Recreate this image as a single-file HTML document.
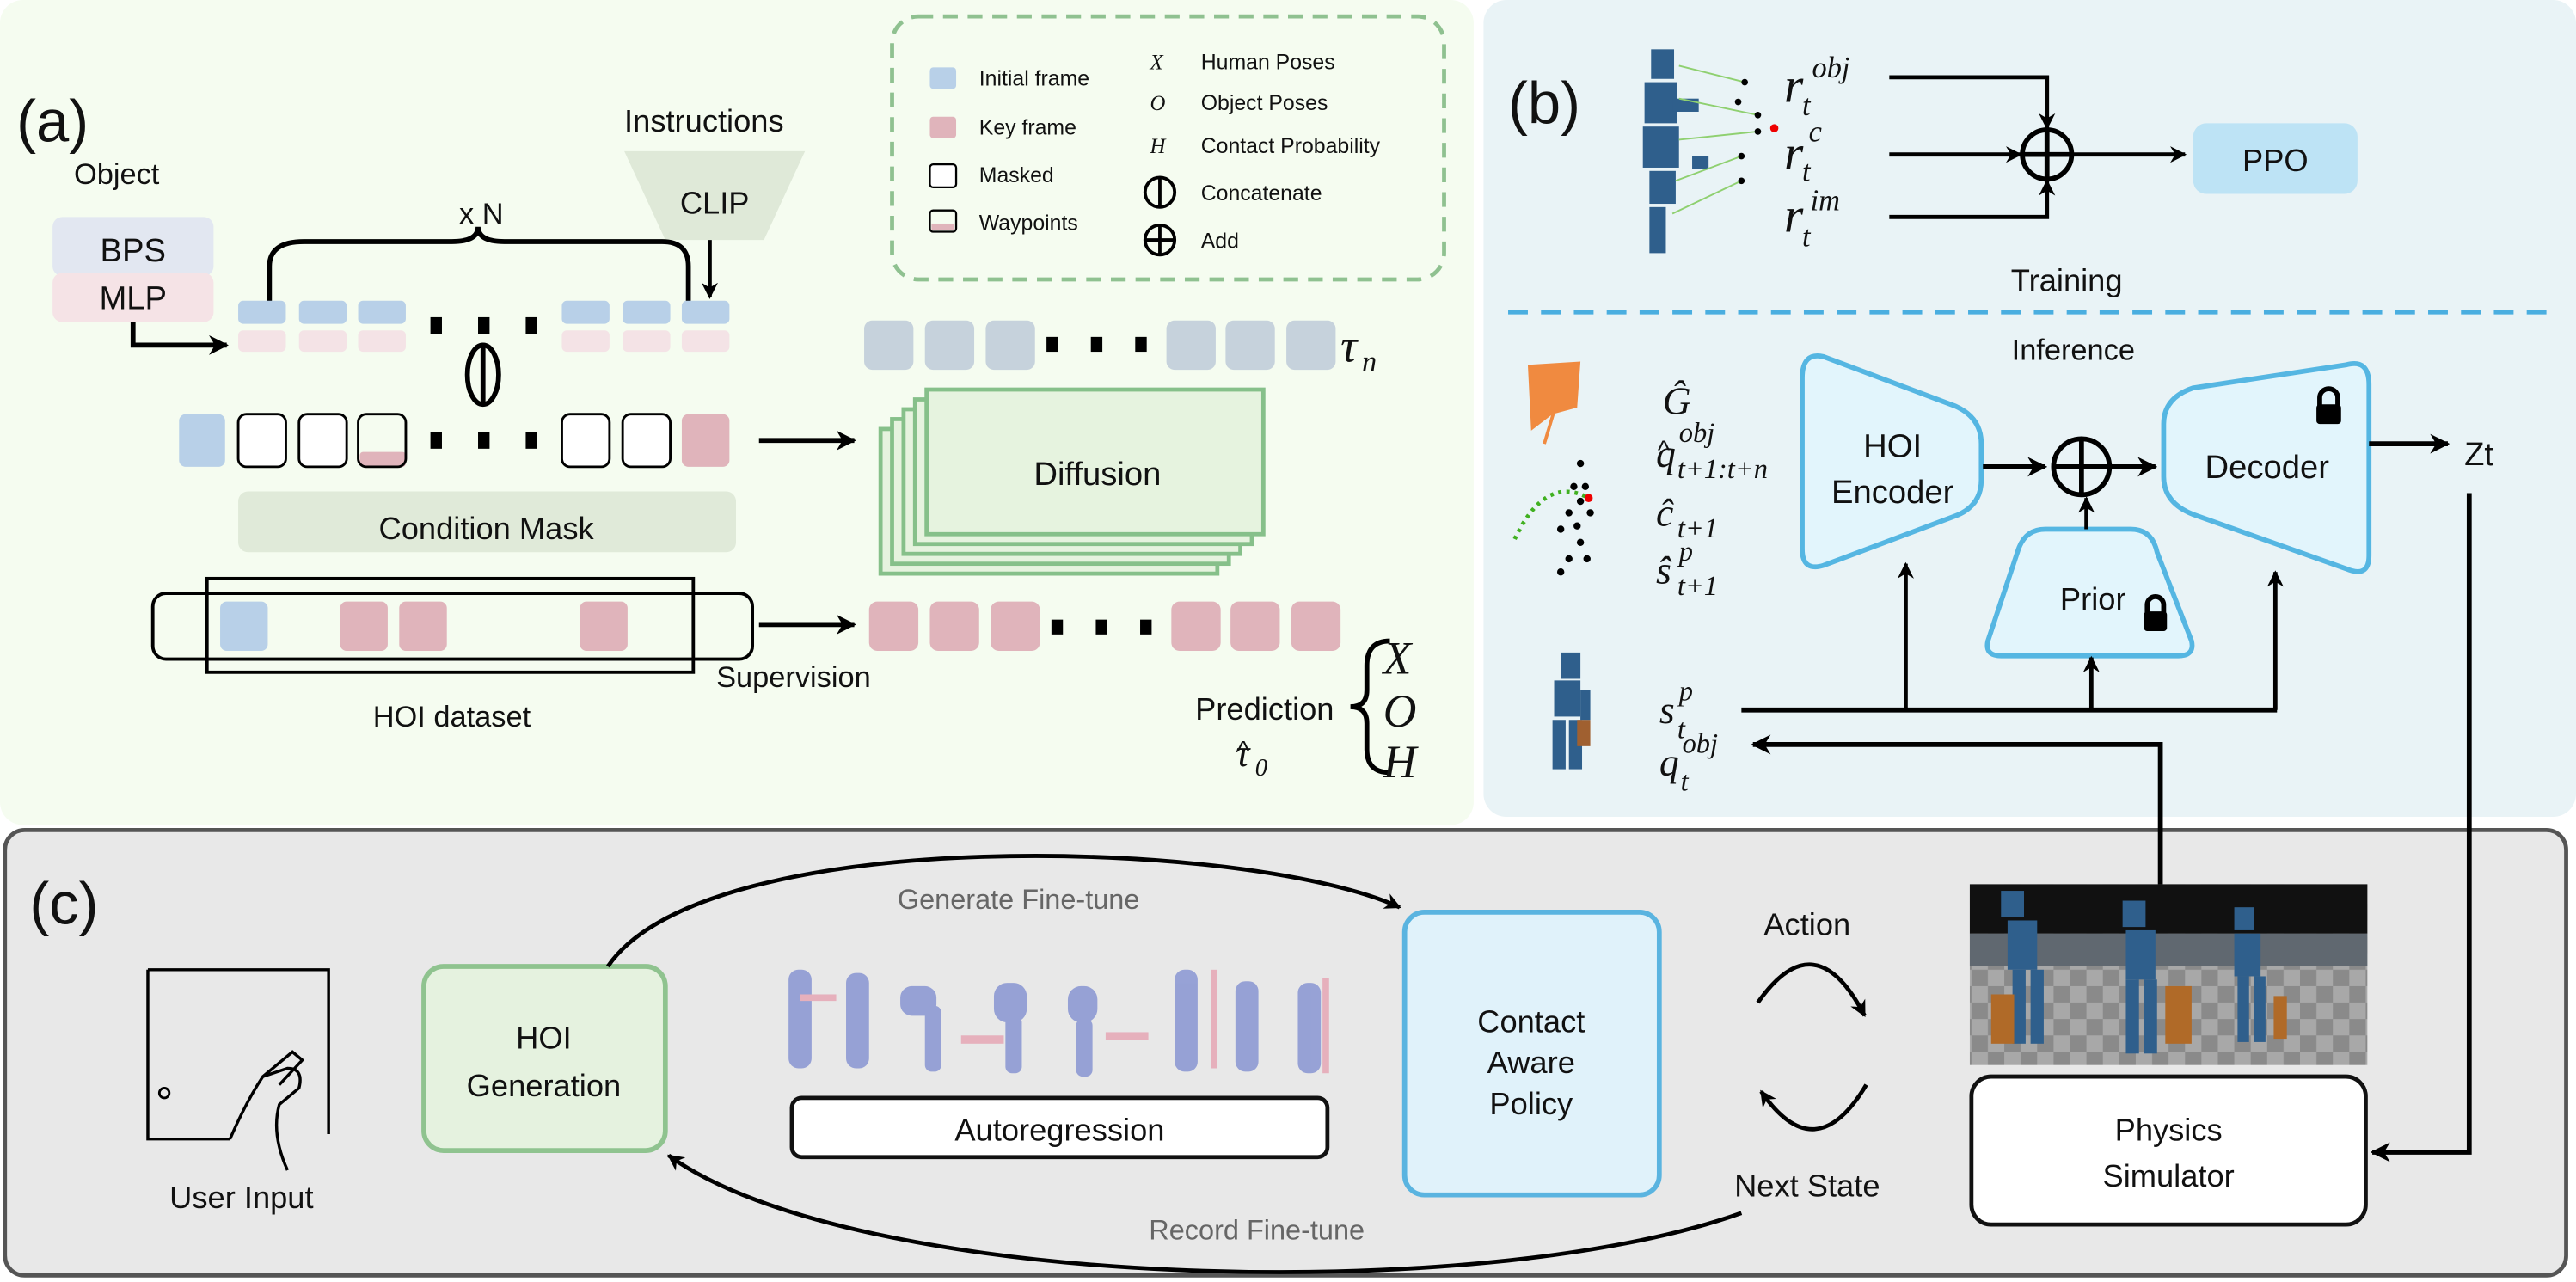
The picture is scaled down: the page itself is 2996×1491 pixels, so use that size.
<!DOCTYPE html>
<html><head><meta charset="utf-8">
<style>
html,body{margin:0;padding:0;background:#fff;}
svg{display:block;}
text{font-family:"Liberation Sans",Arial,sans-serif;fill:#111;}
.m{font-family:"Liberation Serif","DejaVu Serif",serif;font-style:italic;}
</style></head><body>
<svg width="2996" height="1491" viewBox="0 0 1568 780" preserveAspectRatio="none" xmlns="http://www.w3.org/2000/svg">
<defs>
<marker id="ah" viewBox="0 0 10 10" refX="9" refY="5" markerWidth="4" markerHeight="4" orient="auto-start-reverse"><path d="M0,0 L10,5 L0,10 L3,5 z" fill="#000"/></marker>
<pattern id="chk" width="20" height="20" patternUnits="userSpaceOnUse"><rect width="20" height="20" fill="#8a8a8a"/><rect width="10" height="10" fill="#a8a8a8"/><rect x="10" y="10" width="10" height="10" fill="#a8a8a8"/></pattern>
</defs>
<!-- panels -->
<rect x="0" y="0" width="897" height="502" rx="14" fill="#f5fcf0"/>
<rect x="903" y="0" width="665" height="497" rx="14" fill="#e9f3f6"/>
<rect x="3" y="505" width="1559" height="271" rx="12" fill="#e8e8e8" stroke="#555" stroke-width="2.5"/>

<!-- ===== (a) ===== -->
<text x="10" y="86" font-size="36">(a)</text>
<text x="45" y="112" font-size="18">Object</text>
<rect x="32" y="132" width="98" height="36" rx="6" fill="#e2e7f1"/>
<rect x="32" y="166" width="98" height="30" rx="6" fill="#f5e3e6"/>
<text x="81" y="159" font-size="20" text-anchor="middle">BPS</text>
<text x="81" y="188" font-size="20" text-anchor="middle">MLP</text>
<path d="M81,196 V210 H138" fill="none" stroke="#000" stroke-width="3" marker-end="url(#ah)"/>
<text x="380" y="80" font-size="19">Instructions</text>
<path d="M380,92 H490 L465,146 H405 Z" fill="#dfe9d8"/>
<text x="435" y="130" font-size="19" text-anchor="middle">CLIP</text>
<path d="M432,146 V181" stroke="#000" stroke-width="2.5" marker-end="url(#ah)"/>
<text x="293" y="136" font-size="18" text-anchor="middle">x N</text>
<path d="M164,184 V162 Q164,147 185,147 H275 Q291,147 291,138 Q291,147 307,147 H403 Q419,147 419,162 V184" fill="none" stroke="#000" stroke-width="3"/>
<g>
<rect x="145" y="183" width="29" height="14" rx="3" fill="#b8d0e8"/><rect x="182" y="183" width="29" height="14" rx="3" fill="#b8d0e8"/><rect x="218" y="183" width="29" height="14" rx="3" fill="#b8d0e8"/>
<rect x="342" y="183" width="29" height="14" rx="3" fill="#b8d0e8"/><rect x="379" y="183" width="29" height="14" rx="3" fill="#b8d0e8"/><rect x="415" y="183" width="29" height="14" rx="3" fill="#b8d0e8"/>
<rect x="145" y="201" width="29" height="13" rx="3" fill="#f4e3e6"/><rect x="182" y="201" width="29" height="13" rx="3" fill="#f4e3e6"/><rect x="218" y="201" width="29" height="13" rx="3" fill="#f4e3e6"/>
<rect x="342" y="201" width="29" height="13" rx="3" fill="#f4e3e6"/><rect x="379" y="201" width="29" height="13" rx="3" fill="#f4e3e6"/><rect x="415" y="201" width="29" height="13" rx="3" fill="#f4e3e6"/>
<rect x="262" y="193" width="7" height="10" fill="#000"/><rect x="291" y="193" width="7" height="10" fill="#000"/><rect x="320" y="193" width="7" height="10" fill="#000"/>
</g>
<ellipse cx="294" cy="228" rx="9.5" ry="18" fill="none" stroke="#000" stroke-width="3"/>
<line x1="294" y1="210" x2="294" y2="246" stroke="#000" stroke-width="3"/>
<rect x="109" y="252" width="28" height="32" rx="4" fill="#b8d0e8"/>
<rect x="145" y="252" width="29" height="32" rx="5" fill="#fff" stroke="#000" stroke-width="1.5"/>
<rect x="182" y="252" width="29" height="32" rx="5" fill="#fff" stroke="#000" stroke-width="1.5"/>
<rect x="219" y="275" width="28" height="9" rx="2" fill="#e0b4bb"/>
<rect x="218" y="252" width="29" height="32" rx="5" fill="none" stroke="#000" stroke-width="1.5"/>
<rect x="262" y="263" width="7" height="10" fill="#000"/><rect x="291" y="263" width="7" height="10" fill="#000"/><rect x="320" y="263" width="7" height="10" fill="#000"/>
<rect x="342" y="252" width="29" height="32" rx="5" fill="#fff" stroke="#000" stroke-width="1.5"/>
<rect x="379" y="252" width="29" height="32" rx="5" fill="#fff" stroke="#000" stroke-width="1.5"/>
<rect x="415" y="252" width="29" height="32" rx="4" fill="#e0b4bb"/>
<path d="M462,268 H520" stroke="#000" stroke-width="3" marker-end="url(#ah)"/>
<rect x="145" y="299" width="303" height="37" rx="6" fill="#e0ead9"/>
<text x="296" y="328" font-size="19" text-anchor="middle">Condition Mask</text>
<rect x="93" y="361" width="365" height="40" rx="8" fill="none" stroke="#000" stroke-width="2"/>
<rect x="126" y="352" width="296" height="57" fill="none" stroke="#000" stroke-width="2"/>
<rect x="134" y="366" width="29" height="30" rx="4" fill="#b8d0e8"/>
<rect x="207" y="366" width="29" height="30" rx="4" fill="#e0b4bb"/>
<rect x="243" y="366" width="29" height="30" rx="4" fill="#e0b4bb"/>
<rect x="353" y="366" width="29" height="30" rx="4" fill="#e0b4bb"/>
<text x="275" y="442" font-size="18" text-anchor="middle">HOI dataset</text>
<path d="M462,380 H520" stroke="#000" stroke-width="3" marker-end="url(#ah)"/>
<text x="436" y="418" font-size="18">Supervision</text>
<!-- tau_n -->
<g fill="#c6d2dc">
<rect x="526" y="195" width="30" height="30" rx="5"/><rect x="563" y="195" width="30" height="30" rx="5"/><rect x="600" y="195" width="30" height="30" rx="5"/>
<rect x="710" y="195" width="30" height="30" rx="5"/><rect x="746" y="195" width="30" height="30" rx="5"/><rect x="783" y="195" width="30" height="30" rx="5"/>
</g>
<rect x="637" y="205" width="7" height="9" fill="#000"/><rect x="664" y="205" width="7" height="9" fill="#000"/><rect x="691" y="205" width="7" height="9" fill="#000"/>
<text x="816" y="220" font-size="28" class="m">τ</text><text x="829" y="226" font-size="18" class="m">n</text>
<!-- diffusion stack -->
<g fill="#e6f3df" stroke="#86c08a" stroke-width="2.5">
<rect x="536" y="261" width="205" height="88"/>
<rect x="543" y="255" width="205" height="88"/>
<rect x="550" y="249" width="205" height="88"/>
<rect x="557" y="243" width="205" height="88"/>
<rect x="564" y="237" width="205" height="88"/>
</g>
<text x="668" y="295" font-size="20" text-anchor="middle">Diffusion</text>
<g fill="#e0b4bb">
<rect x="529" y="366" width="30" height="30" rx="5"/><rect x="566" y="366" width="30" height="30" rx="5"/><rect x="603" y="366" width="30" height="30" rx="5"/>
<rect x="713" y="366" width="30" height="30" rx="5"/><rect x="749" y="366" width="30" height="30" rx="5"/><rect x="786" y="366" width="30" height="30" rx="5"/>
</g>
<rect x="640" y="377" width="7" height="9" fill="#000"/><rect x="667" y="377" width="7" height="9" fill="#000"/><rect x="694" y="377" width="7" height="9" fill="#000"/>
<text x="812" y="438" font-size="19" text-anchor="end">Prediction</text>
<text x="752" y="466" font-size="24" class="m">τ</text><text x="753" y="462" font-size="16">^</text><text x="764" y="472" font-size="15" class="m">0</text>
<path d="M846,390 Q832,390 832,405 V420 Q832,430 822,430 Q832,430 832,440 V456 Q832,470 846,470" fill="none" stroke="#000" stroke-width="3"/>
<text x="842" y="410" font-size="28" class="m">X</text>
<text x="842" y="442" font-size="28" class="m">O</text>
<text x="842" y="473" font-size="28" class="m">H</text>
<!-- legend -->
<rect x="543" y="10" width="336" height="160" rx="16" fill="none" stroke="#8fc190" stroke-width="2.5" stroke-dasharray="9,6"/>
<rect x="566" y="41" width="16" height="13" rx="2" fill="#b8d0e8"/>
<rect x="566" y="71" width="16" height="13" rx="2" fill="#e0b4bb"/>
<rect x="566" y="100" width="16" height="14" rx="2" fill="#fff" stroke="#000" stroke-width="1.2"/>
<rect x="567" y="136" width="14" height="4" fill="#e0b4bb"/>
<rect x="566" y="128" width="16" height="13" rx="2" fill="none" stroke="#000" stroke-width="1.2"/>
<g font-size="13">
<text x="596" y="52">Initial frame</text><text x="596" y="82">Key frame</text><text x="596" y="111">Masked</text><text x="596" y="140">Waypoints</text>
<text x="731" y="42">Human Poses</text><text x="731" y="67">Object Poses</text><text x="731" y="93">Contact Probability</text><text x="731" y="122">Concatenate</text><text x="731" y="151">Add</text>
</g>
<text x="700" y="42" font-size="13" class="m">X</text><text x="700" y="67" font-size="13" class="m">O</text><text x="700" y="93" font-size="13" class="m">H</text>
<circle cx="706" cy="117" r="9" fill="none" stroke="#000" stroke-width="2"/><line x1="706" y1="108" x2="706" y2="126" stroke="#000" stroke-width="2"/>
<circle cx="706" cy="146" r="9" fill="none" stroke="#000" stroke-width="2"/><line x1="706" y1="137" x2="706" y2="155" stroke="#000" stroke-width="2"/><line x1="697" y1="146" x2="715" y2="146" stroke="#000" stroke-width="2"/>

<!-- ===== (b) ===== -->
<text x="918" y="75" font-size="36">(b)</text>
<g fill="#2f5f8c">
<rect x="1005" y="30" width="14" height="18"/><rect x="1001" y="50" width="20" height="25"/><rect x="1000" y="77" width="22" height="25"/><rect x="1004" y="104" width="16" height="20"/><rect x="1004" y="126" width="10" height="28"/><rect x="1018" y="60" width="16" height="8"/><rect x="1030" y="95" width="10" height="8"/>
</g>
<g stroke="#8fd070" stroke-width="1"><line x1="1022" y1="40" x2="1062" y2="50"/><line x1="1022" y1="60" x2="1070" y2="70"/><line x1="1022" y1="85" x2="1070" y2="80"/><line x1="1020" y1="110" x2="1060" y2="95"/><line x1="1018" y1="130" x2="1060" y2="110"/></g>
<g fill="#000"><circle cx="1062" cy="50" r="2"/><circle cx="1070" cy="70" r="2"/><circle cx="1070" cy="80" r="2"/><circle cx="1060" cy="95" r="2"/><circle cx="1060" cy="110" r="2"/><circle cx="1058" cy="62" r="2"/></g>
<circle cx="1080" cy="78" r="2.5" fill="#e00"/>
<text x="1086" y="62" font-size="30" class="m">r</text><text x="1103" y="47" font-size="18" class="m">obj</text><text x="1097" y="70" font-size="18" class="m">t</text>
<text x="1086" y="103" font-size="30" class="m">r</text><text x="1101" y="86" font-size="18" class="m">c</text><text x="1097" y="110" font-size="18" class="m">t</text>
<text x="1086" y="141" font-size="30" class="m">r</text><text x="1102" y="128" font-size="18" class="m">im</text><text x="1097" y="150" font-size="18" class="m">t</text>
<path d="M1150,47 H1246 V78" fill="none" stroke="#000" stroke-width="2.5" marker-end="url(#ah)"/>
<path d="M1150,94 H1230" stroke="#000" stroke-width="2.5" marker-end="url(#ah)"/>
<path d="M1150,132 H1246 V110" fill="none" stroke="#000" stroke-width="2.5" marker-end="url(#ah)"/>
<circle cx="1246" cy="94" r="15" fill="none" stroke="#000" stroke-width="3"/><line x1="1246" y1="79" x2="1246" y2="109" stroke="#000" stroke-width="3"/><line x1="1231" y1="94" x2="1261" y2="94" stroke="#000" stroke-width="3"/>
<path d="M1262,94 H1330" stroke="#000" stroke-width="2.5" marker-end="url(#ah)"/>
<rect x="1335" y="75" width="100" height="43" rx="8" fill="#bde3f5"/>
<text x="1385" y="104" font-size="19" text-anchor="middle">PPO</text>
<text x="1258" y="177" font-size="19" text-anchor="middle">Training</text>
<line x1="918" y1="190" x2="1555" y2="190" stroke="#4aaee0" stroke-width="2.5" stroke-dasharray="12,8"/>
<text x="1262" y="219" font-size="18" text-anchor="middle">Inference</text>
<path d="M930,222 L962,220 L960,248 L945,252 L932,262 Z" fill="#f08a40"/>
<line x1="946" y1="250" x2="940" y2="270" stroke="#f08a40" stroke-width="2"/>
<path d="M922,328 Q940,290 965,302" fill="none" stroke="#40b020" stroke-width="2.5" stroke-dasharray="2,3"/>
<g fill="#000"><circle cx="962" cy="282" r="2.2"/><circle cx="958" cy="296" r="2.2"/><circle cx="965" cy="296" r="2.2"/><circle cx="962" cy="305" r="2.2"/><circle cx="955" cy="312" r="2.2"/><circle cx="968" cy="312" r="2.2"/><circle cx="950" cy="322" r="2.2"/><circle cx="960" cy="320" r="2.2"/><circle cx="962" cy="330" r="2.2"/><circle cx="955" cy="340" r="2.2"/><circle cx="966" cy="340" r="2.2"/><circle cx="950" cy="348" r="2.2"/></g>
<circle cx="967" cy="303" r="2.5" fill="#e00"/>
<text x="1012" y="252" font-size="24" class="m">Ĝ</text>
<text x="1008" y="284" font-size="24" class="m">q</text><text x="1009" y="279" font-size="16">^</text><text x="1022" y="269" font-size="17" class="m">obj</text><text x="1021" y="291" font-size="17" class="m">t+1:t+n</text>
<text x="1008" y="320" font-size="24" class="m">ĉ</text><text x="1021" y="327" font-size="17" class="m">t+1</text>
<text x="1008" y="355" font-size="24" class="m">ŝ</text><text x="1022" y="341" font-size="17" class="m">p</text><text x="1021" y="362" font-size="17" class="m">t+1</text>
<!-- encoder -->
<path d="M1110,225 L1190,255 Q1206,262 1206,278 V300 Q1206,316 1190,322 L1110,352 Q1097,356 1097,342 V238 Q1097,222 1110,225 Z" transform="translate(0,-8)" fill="#e2f5fc" stroke="#55b6e2" stroke-width="3"/>
<text x="1152" y="278" font-size="20" text-anchor="middle">HOI</text>
<text x="1152" y="306" font-size="20" text-anchor="middle">Encoder</text>
<path d="M1207,284 H1245" stroke="#000" stroke-width="3" marker-end="url(#ah)"/>
<circle cx="1267" cy="284" r="17" fill="none" stroke="#000" stroke-width="3"/><line x1="1267" y1="267" x2="1267" y2="301" stroke="#000" stroke-width="3"/><line x1="1250" y1="284" x2="1284" y2="284" stroke="#000" stroke-width="3"/>
<path d="M1284,284 H1312" stroke="#000" stroke-width="3" marker-end="url(#ah)"/>
<!-- decoder -->
<path d="M1428,222 Q1442,218 1442,234 V338 Q1442,352 1428,346 L1335,313 Q1317,306 1317,290 V258 Q1317,242 1335,236 Z" fill="#e2f5fc" stroke="#55b6e2" stroke-width="3"/>
<text x="1380" y="291" font-size="20" text-anchor="middle">Decoder</text>
<rect x="1410" y="246" width="15" height="12" rx="2" fill="#000"/><path d="M1412,247 V242 A5.5,5.5 0 0 1 1423,242 V247" fill="none" stroke="#000" stroke-width="3"/>
<!-- prior -->
<path d="M1245,322 H1297 Q1310,322 1313,336 L1334,390 Q1336,399 1326,399 H1218 Q1208,399 1210,390 L1228,336 Q1232,322 1245,322 Z" fill="#e2f5fc" stroke="#55b6e2" stroke-width="3"/>
<text x="1274" y="371" font-size="19" text-anchor="middle">Prior</text>
<rect x="1305" y="372" width="14" height="12" rx="2" fill="#000"/><path d="M1307,373 V368 A5,5 0 0 1 1317,368 V373" fill="none" stroke="#000" stroke-width="3"/>
<path d="M1270,322 V303" stroke="#000" stroke-width="2.5" marker-end="url(#ah)"/>
<path d="M1442,270 H1490" stroke="#000" stroke-width="3" marker-end="url(#ah)"/>
<text x="1500" y="283" font-size="20">Zt</text>
<!-- lower b -->
<g fill="#2f5f8c"><rect x="950" y="397" width="12" height="16"/><rect x="946" y="414" width="16" height="22"/><rect x="945" y="438" width="8" height="30"/><rect x="955" y="438" width="8" height="30"/><rect x="962" y="420" width="6" height="18"/></g>
<rect x="960" y="438" width="8" height="16" fill="#a06030"/>
<text x="1010" y="440" font-size="24" class="m">s</text><text x="1022" y="426" font-size="17" class="m">p</text><text x="1021" y="449" font-size="17" class="m">t</text>
<text x="1010" y="472" font-size="24" class="m">q</text><text x="1024" y="458" font-size="17" class="m">obj</text><text x="1023" y="481" font-size="17" class="m">t</text>
<path d="M1060,432 H1386" fill="none" stroke="#000" stroke-width="3"/>
<path d="M1160,432 V343" stroke="#000" stroke-width="2.5" marker-end="url(#ah)"/>
<path d="M1273,432 V400" stroke="#000" stroke-width="2.5" marker-end="url(#ah)"/>
<path d="M1385,432 V348" stroke="#000" stroke-width="2.5" marker-end="url(#ah)"/>
<path d="M1315,540 V453 H1067" fill="none" stroke="#000" stroke-width="3" marker-end="url(#ah)"/>
<path d="M1503,300 V701 H1444" fill="none" stroke="#000" stroke-width="3" marker-end="url(#ah)"/>

<!-- ===== (c) ===== -->
<text x="18" y="562" font-size="36">(c)</text>
<path d="M90,590 H200 V690 M90,590 V693 H140" fill="none" stroke="#000" stroke-width="1.8"/>
<circle cx="100" cy="665" r="3" fill="none" stroke="#000" stroke-width="1.5"/>
<path d="M140,693 Q150,670 160,655 L175,650 Q185,650 182,662 L170,672 Q165,690 175,712 M160,655 L178,640 L184,645 L170,660" fill="none" stroke="#000" stroke-width="1.8"/>
<text x="147" y="735" font-size="19" text-anchor="middle">User Input</text>
<rect x="258" y="588" width="147" height="112" rx="12" fill="#e5f2df" stroke="#8fc38f" stroke-width="3"/>
<text x="331" y="638" font-size="19" text-anchor="middle">HOI</text>
<text x="331" y="667" font-size="19" text-anchor="middle">Generation</text>
<path d="M370,588 C430,500 760,510 852,552" fill="none" stroke="#000" stroke-width="2.5" marker-end="url(#ah)"/>
<text x="620" y="553" font-size="17" text-anchor="middle" style="fill:#666">Generate Fine-tune</text>
<g fill="#8e9ad4" opacity="0.9">
<rect x="480" y="590" width="14" height="60" rx="6"/><rect x="515" y="592" width="14" height="58" rx="6"/><rect x="548" y="600" width="22" height="18" rx="7"/><rect x="563" y="612" width="10" height="40" rx="4"/><rect x="605" y="598" width="20" height="24" rx="8"/><rect x="612" y="618" width="10" height="35" rx="4"/><rect x="650" y="600" width="18" height="22" rx="8"/><rect x="655" y="620" width="10" height="35" rx="4"/><rect x="715" y="590" width="14" height="62" rx="6"/><rect x="752" y="597" width="14" height="55" rx="6"/><rect x="790" y="598" width="14" height="55" rx="6"/>
</g>
<g fill="#e6b0bc"><rect x="487" y="605" width="22" height="4"/><rect x="585" y="630" width="26" height="5"/><rect x="673" y="628" width="26" height="5"/><rect x="737" y="590" width="4" height="60"/><rect x="805" y="595" width="4" height="58"/></g>
<rect x="482" y="668" width="326" height="36" rx="6" fill="#fff" stroke="#111" stroke-width="2.5"/>
<text x="645" y="694" font-size="19" text-anchor="middle">Autoregression</text>
<rect x="855" y="555" width="155" height="172" rx="12" fill="#e0f2fa" stroke="#5ab4e0" stroke-width="3"/>
<text x="932" y="628" font-size="19" text-anchor="middle">Contact</text>
<text x="932" y="653" font-size="19" text-anchor="middle">Aware</text>
<text x="932" y="678" font-size="19" text-anchor="middle">Policy</text>
<text x="1100" y="569" font-size="19" text-anchor="middle">Action</text>
<path d="M1070,610 Q1105,560 1135,618" fill="none" stroke="#000" stroke-width="2.5" marker-end="url(#ah)"/>
<path d="M1136,660 Q1105,712 1072,664" fill="none" stroke="#000" stroke-width="2.5" marker-end="url(#ah)"/>
<text x="1100" y="728" font-size="19" text-anchor="middle">Next State</text>
<path d="M1060,738 C900,795 520,785 407,703" fill="none" stroke="#000" stroke-width="2.5" marker-end="url(#ah)"/>
<text x="765" y="754" font-size="17" text-anchor="middle" style="fill:#666">Record Fine-tune</text>
<rect x="1199" y="538" width="242" height="110" fill="url(#chk)"/>
<rect x="1199" y="538" width="242" height="30" fill="#111"/>
<rect x="1199" y="568" width="242" height="20" fill="#606870"/>
<g fill="#2f5f8c">
<rect x="1218" y="542" width="14" height="16"/><rect x="1222" y="560" width="18" height="30"/><rect x="1225" y="590" width="8" height="45"/><rect x="1236" y="590" width="8" height="45"/>
<rect x="1292" y="548" width="14" height="16"/><rect x="1294" y="566" width="18" height="30"/><rect x="1294" y="596" width="8" height="45"/><rect x="1305" y="596" width="8" height="45"/>
<rect x="1360" y="552" width="12" height="14"/><rect x="1360" y="568" width="16" height="26"/><rect x="1362" y="594" width="7" height="40"/><rect x="1372" y="594" width="7" height="40"/>
</g>
<g fill="#b06a28"><rect x="1212" y="605" width="14" height="30"/><rect x="1318" y="600" width="16" height="35"/><rect x="1384" y="606" width="8" height="26"/></g>
<rect x="1200" y="655" width="240" height="90" rx="12" fill="#fff" stroke="#111" stroke-width="2.5"/>
<text x="1320" y="694" font-size="19" text-anchor="middle">Physics</text>
<text x="1320" y="722" font-size="19" text-anchor="middle">Simulator</text>
</svg>
</body></html>
